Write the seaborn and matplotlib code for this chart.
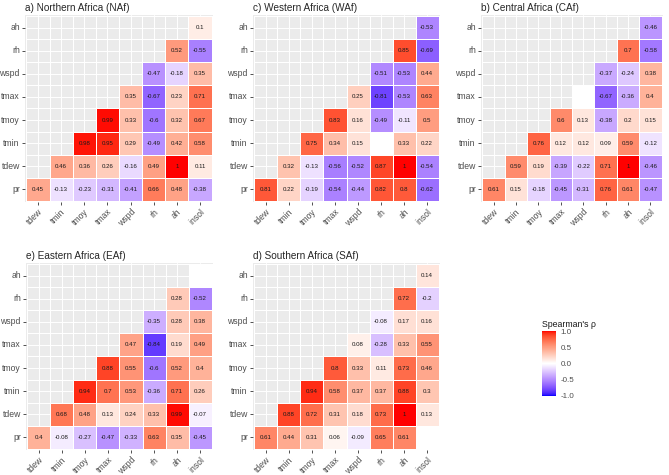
import numpy as np
import pandas as pd
import seaborn as sns
import matplotlib.pyplot as plt
from matplotlib.colors import ListedColormap, Normalize
from matplotlib.cm import ScalarMappable

# Variables (rows from top to bottom, columns from left to right)
row_vars = ['ah', 'rh', 'wspd', 'tmax', 'tmoy', 'tmin', 'tdew', 'pr']
col_vars = ['tdew', 'tmin', 'tmoy', 'tmax', 'wspd', 'rh', 'ah', 'insol']

# Lower-triangle values per row (top row ah ... bottom row pr), None = blank tile
naf = [
    [0.1],
    [0.52, -0.55],
    [-0.47, -0.18, 0.35],
    [0.35, -0.67, 0.23, 0.71],
    [0.99, 0.33, -0.6, 0.32, 0.67],
    [0.98, 0.95, 0.29, -0.49, 0.42, 0.58],
    [0.46, 0.36, 0.26, -0.16, 0.49, 1, 0.11],
    [0.45, -0.13, -0.23, -0.31, -0.41, 0.66, 0.48, -0.38],
]
waf = [
    [-0.53],
    [0.85, -0.69],
    [-0.51, -0.53, 0.44],
    [0.25, -0.81, -0.53, 0.63],
    [0.83, 0.16, -0.49, -0.11, 0.5],
    [0.75, 0.34, 0.15, None, 0.33, 0.22],
    [0.32, -0.13, -0.56, -0.52, 0.87, 1, -0.54],
    [0.81, 0.22, -0.19, -0.54, -0.44, 0.82, 0.8, -0.62],
]
caf = [
    [-0.46],
    [0.7, -0.58],
    [-0.37, -0.24, 0.38],
    [None, -0.67, -0.36, 0.4],
    [0.6, 0.13, -0.38, 0.2, 0.15],
    [0.76, 0.12, 0.12, 0.09, 0.59, -0.12],
    [0.59, 0.19, -0.39, -0.22, 0.71, 1, -0.46],
    [0.61, 0.15, -0.18, -0.45, -0.31, 0.76, 0.61, -0.47],
]
eaf = [
    [None],
    [0.28, -0.52],
    [-0.35, 0.28, 0.38],
    [0.47, -0.84, 0.19, 0.49],
    [0.88, 0.55, -0.6, 0.52, 0.4],
    [0.94, 0.7, 0.53, -0.36, 0.71, 0.26],
    [0.68, 0.48, 0.13, 0.24, 0.33, 0.99, -0.07],
    [0.4, -0.08, -0.27, -0.47, -0.33, 0.63, 0.35, -0.45],
]
saf = [
    [0.14],
    [0.72, -0.2],
    [-0.08, 0.17, 0.16],
    [0.08, -0.28, 0.33, 0.55],
    [0.8, 0.33, 0.11, 0.73, 0.46],
    [0.94, 0.58, 0.37, 0.37, 0.88, 0.3],
    [0.88, 0.72, 0.31, 0.18, 0.73, 1, 0.13],
    [0.61, 0.44, 0.31, 0.06, -0.09, 0.65, 0.61, None],
]

titles = ['a) Northern Africa (NAf)', 'c) Western Africa (WAf)', 'b) Central Africa (CAf)',
          'e) Eastern Africa (EAf)', 'd) Southern Africa (SAf)']
regions = [naf, waf, caf, eaf, saf]


# blue-white-red gradient interpolated in Lab space (like ggplot's gradient2)
M = np.array([[0.4124, 0.3576, 0.1805], [0.2126, 0.7152, 0.0722], [0.0193, 0.1192, 0.9505]])
WP = np.array([0.95047, 1.0, 1.08883])


def to_lab(rgb):
    c = np.asarray(rgb, float)
    lin = np.where(c <= 0.04045, c / 12.92, ((c + 0.055) / 1.055) ** 2.4)
    t = M @ lin / WP
    f = np.where(t > (6 / 29) ** 3, np.cbrt(t), t / (3 * (6 / 29) ** 2) + 4 / 29)
    return np.array([116 * f[1] - 16, 500 * (f[0] - f[1]), 200 * (f[1] - f[2])])


def from_lab(lab):
    fy = (lab[0] + 16) / 116
    f = np.array([fy + lab[1] / 500, fy, fy - lab[2] / 200])
    t = np.where(f > 6 / 29, f ** 3, 3 * (6 / 29) ** 2 * (f - 4 / 29)) * WP
    lin = np.clip(np.linalg.inv(M) @ t, 0, 1)
    c = np.where(lin <= 0.0031308, 12.92 * lin, 1.055 * lin ** (1 / 2.4) - 0.055)
    return np.clip(c, 0, 1)


blue, white, red = to_lab([0, 0, 1]), to_lab([1, 1, 1]), to_lab([1, 0, 0])
cols = [from_lab(blue + (white - blue) * s) for s in np.linspace(0, 1, 128)]
cols += [from_lab(white + (red - white) * s) for s in np.linspace(0, 1, 128)]
cmap = ListedColormap(cols)

sns.set_theme(style='darkgrid')
plt.rcParams['font.family'] = ['Liberation Sans', 'DejaVu Sans']
plt.rcParams['axes.unicode_minus'] = False

fig = plt.figure(figsize=(6.69, 4.75), dpi=100)
W, H = 669, 475
boxes = [(25, 15, 188, 187), (253, 15, 187, 187), (481, 15, 182, 187),
         (26, 263, 187, 187), (253, 263, 187, 187)]

for rows, title, (x, y, w, h) in zip(regions, titles, boxes):
    vals = np.zeros((8, 8))
    labels = np.full((8, 8), '', dtype=object)
    mask = np.ones((8, 8), dtype=bool)
    for i, r in enumerate(rows):
        for k, v in enumerate(r):
            j = 8 - len(r) + k
            mask[i, j] = False
            if v is not None:
                vals[i, j] = v
                labels[i, j] = f'{v:g}'
    df = pd.DataFrame(vals, index=row_vars, columns=col_vars)

    ax = fig.add_axes([x / W, 1 - (y + h) / H, w / W, h / H])
    ax.set_facecolor('#EBEBEB')
    sns.heatmap(df, mask=mask, cmap=cmap, vmin=-1, vmax=1, annot=labels, fmt='',
                annot_kws={'size': 4.4, 'color': '#1a1a1a'}, cbar=False,
                linewidths=0.5, linecolor='white', square=False, ax=ax)
    ax.set_axisbelow(True)
    ax.grid(True, color='white', linewidth=0.7)
    ax.set_xlim(-0.06, 8.06)
    ax.set_ylim(8.06, -0.06)
    ax.tick_params(bottom=True, left=True, length=2.2, width=0.6, color='#333333',
                   labelsize=6.2, labelcolor='#4D4D4D', pad=1.5)
    ax.set_xticklabels(col_vars, rotation=45, ha='right', rotation_mode='anchor')
    ax.set_yticklabels(row_vars, rotation=0)
    ax.set_xlabel('')
    ax.set_ylabel('')
    for s in ax.spines.values():
        s.set_visible(False)
    ax.set_title(title, loc='left', fontsize=7.2, pad=3)

# colour bar
cax = fig.add_axes([542 / W, 1 - 396 / H, 14 / W, 65 / H])
cb = fig.colorbar(ScalarMappable(norm=Normalize(-1, 1), cmap=cmap), cax=cax,
                  ticks=[-1, -0.5, 0, 0.5, 1], format='%.1f')
cb.outline.set_visible(False)
cax.tick_params(labelsize=5.8, labelcolor='#4D4D4D', length=2, color='white', pad=1.5)
cax.set_title("Spearman's ρ", loc='left', fontsize=6.3, pad=3, color='#1a1a1a')

fig.savefig('out.png', dpi=100)
